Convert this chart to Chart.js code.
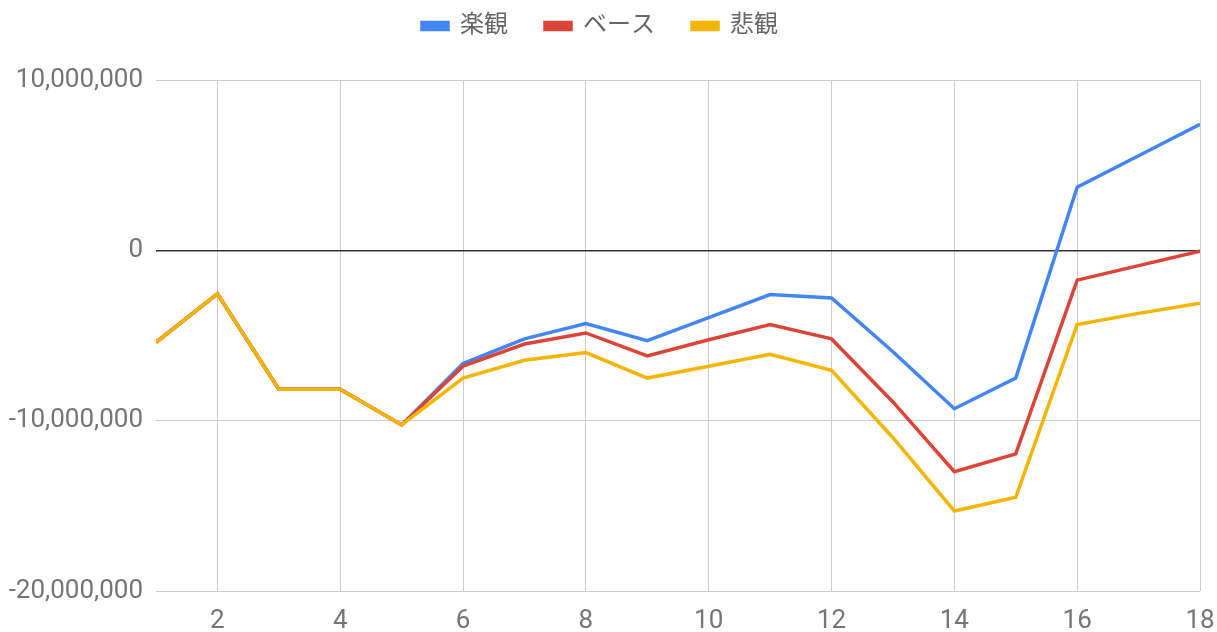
<!DOCTYPE html>
<html>
<head>
<meta charset="utf-8">
<script src="https://cdn.jsdelivr.net/npm/chart.js@4"></script>
<style>
  html, body { margin: 0; padding: 0; background: #fff; }
  #wrap { width: 1217px; height: 632px; position: relative; }
</style>
</head>
<body>
<div id="wrap"><canvas id="c"></canvas></div>
<script>
const periods = [1,2,3,4,5,6,7,8,9,10,11,12,13,14,15,16,17,18];
const xTickValues = [2,4,6,8,10,12,14,16,18];
const yTickValues = [-20000000, -10000000, 0, 10000000];
const seriesNames = ['楽観', 'ベース', '悲観'];
const optimistic = [-5400000,-2550000,-8150000,-8150000,-10250000,-6650000,-5200000,-4300000,-5300000,-3950000,-2600000,-2800000,-5950000,-9300000,-7500000,3700000,5550000,7400000];
const base = [-5400000,-2550000,-8150000,-8150000,-10250000,-6800000,-5500000,-4850000,-6200000,-5250000,-4350000,-5200000,-8900000,-13000000,-11950000,-1750000,-900000,-50000];
const pessimistic = [-5400000,-2550000,-8150000,-8150000,-10250000,-7500000,-6450000,-6000000,-7500000,-6800000,-6100000,-7050000,-11000000,-15300000,-14500000,-4350000,-3700000,-3100000];

const FONT = "Roboto, 'Noto Sans CJK JP', sans-serif";
const toXY = arr => arr.map((v, i) => ({x: periods[i], y: v}));

const legendSpacer = {
  id: 'legendSpacer',
  afterInit(chart) {
    const lg = chart.legend;
    if (!lg) return;
    const orig = lg.fit;
    lg.fit = function () { orig.call(this); this.height = 103; };
  }
};

new Chart(document.getElementById('c'), {
  type: 'line',
  data: {
    datasets: [
      { label: seriesNames[0], data: toXY(optimistic), borderColor: '#4285F4', backgroundColor: '#4285F4', order: 2 },
      { label: seriesNames[1], data: toXY(base), borderColor: '#DB4437', backgroundColor: '#DB4437', order: 1 },
      { label: seriesNames[2], data: toXY(pessimistic), borderColor: '#F4B400', backgroundColor: '#F4B400', order: 0 }
    ]
  },
  plugins: [legendSpacer],
  options: {
    responsive: true,
    maintainAspectRatio: false,
    animation: false,
    layout: { padding: { top: -23, right: 17, bottom: 0, left: 0 } },
    elements: {
      line: { borderWidth: 3.5, tension: 0 },
      point: { radius: 0, hoverRadius: 0 }
    },
    plugins: {
      tooltip: { enabled: false },
      legend: {
        position: 'top',
        labels: {
          boxWidth: 26,
          boxHeight: 7,
          padding: 37,
          color: '#666',
          font: { family: FONT, size: 24 },
          sort: (a, b) => a.datasetIndex - b.datasetIndex
        }
      }
    },
    scales: {
      x: {
        type: 'linear',
        min: 1,
        max: 18,
        afterBuildTicks: s => { s.ticks = xTickValues.map(v => ({ value: v })); },
        afterFit: s => { s.height = 41; s.paddingRight = 0; s.paddingLeft = 0; },
        border: { display: false },
        grid: { color: '#cccccc', lineWidth: 1, drawTicks: false },
        ticks: { color: '#757575', padding: 15, maxRotation: 0, autoSkip: false, font: { family: FONT, size: 26 } }
      },
      y: {
        min: -20000000,
        max: 10000000,
        afterBuildTicks: s => { s.ticks = yTickValues.map(v => ({ value: v })); },
        afterFit: s => { s.width = 156; },
        border: { display: false },
        grid: {
          color: ctx => (ctx.tick && ctx.tick.value === 0) ? '#333333' : '#cccccc',
          lineWidth: ctx => (ctx.tick && ctx.tick.value === 0) ? 1.5 : 1,
          drawTicks: false
        },
        ticks: {
          color: '#757575',
          padding: 13,
          font: { family: FONT, size: 26 },
          callback: v => Number(v).toLocaleString('en-US')
        }
      }
    }
  }
});
</script>
</body>
</html>
